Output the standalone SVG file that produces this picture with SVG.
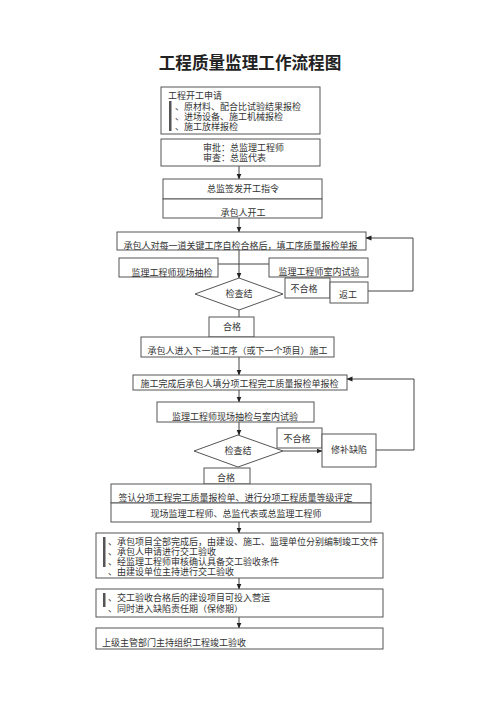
<svg xmlns="http://www.w3.org/2000/svg" width="500" height="707" viewBox="0 0 500 707">
<defs>
<marker id="ah" markerWidth="6" markerHeight="6" refX="5.5" refY="3" orient="auto" markerUnits="userSpaceOnUse">
<path d="M0,0.5 L6,3 L0,5.5 Z" fill="#222"/>
</marker>
</defs>
<style>
.b{fill:#fff;stroke:#555;stroke-width:1}
.t{font-family:"Noto Sans CJK SC","Noto Sans",sans-serif;font-size:9px;fill:#333}
.c{text-anchor:middle}
.l{fill:none;stroke:#444;stroke-width:1}
.a{fill:none;stroke:#444;stroke-width:1;marker-end:url(#ah)}
.bar{fill:#555}
</style>
<rect width="500" height="707" fill="#fff"/>
<text x="250" y="69" class="c" font-family="'Noto Sans CJK SC',sans-serif" font-size="16.6" font-weight="bold" fill="#222">工程质量监理工作流程图</text>

<g id="connectors">
<line class="a" x1="239" y1="166" x2="239" y2="179"/>
<line class="a" x1="239" y1="218" x2="239" y2="232"/>
<line class="l" x1="218" y1="264" x2="269" y2="264"/>
<line class="a" x1="239" y1="250" x2="239" y2="278"/>
<line class="l" x1="239" y1="310" x2="239" y2="317"/>
<path class="a" d="M368,291 H413 V238 H366"/>
<line class="a" x1="239" y1="357" x2="239" y2="375"/>
<path class="a" d="M376,450 H414 V379 H347"/>
<line class="a" x1="239" y1="390" x2="239" y2="402"/>
<line class="a" x1="239" y1="422" x2="239" y2="435"/>
<line class="a" x1="283" y1="451" x2="322" y2="451"/>
<line class="a" x1="239" y1="522" x2="239" y2="533"/>
<line class="a" x1="239" y1="578" x2="239" y2="589"/>
<line class="a" x1="239" y1="617" x2="239" y2="628"/>
</g>

<g id="n1">
<rect class="b" x="161" y="87" width="159" height="47"/>
<rect class="bar" x="169" y="101" width="2.5" height="30"/>
<text class="t"><tspan x="168" y="99">工程开工申请</tspan><tspan x="175" y="110">、原材料、配合比试验结果报检</tspan><tspan x="175" y="120">、进场设备、施工机械报检</tspan><tspan x="175" y="130">、施工放样报检</tspan></text>
</g>
<g id="n2">
<rect class="b" x="161" y="139" width="159" height="27"/>
<text class="t"><tspan x="203" y="151">审批：总监理工程师</tspan><tspan x="203" y="161">审查：总监代表</tspan></text>
</g>
<g id="n3">
<rect class="b" x="163" y="179" width="159" height="20"/>
<text class="t c" x="243" y="192">总监签发开工指令</text>
</g>
<g id="n4">
<rect class="b" x="163" y="199" width="159" height="19"/>
<text class="t c" x="243" y="216">承包人开工</text>
</g>
<g id="n5">
<rect class="b" x="117" y="232" width="249" height="18"/>
<text class="t c" x="240.5" y="249">承包人对每一道关键工序自检合格后，填工序质量报检单报</text>
</g>
<g id="n6">
<rect class="b" x="119" y="258" width="99" height="19"/>
<text class="t c" x="172" y="276">监理工程师现场抽检</text>
</g>
<g id="n7">
<rect class="b" x="269" y="258" width="99" height="19"/>
<text class="t c" x="319" y="275">监理工程师室内试验</text>
</g>
<g id="n8">
<polygon class="b" points="195,294 239,278 283,294 239,310"/>
<text class="t c" x="239" y="297">检查结</text>
</g>
<g id="n9">
<rect class="b" x="285" y="278" width="45" height="20"/>
<text class="t c" x="304" y="292">不合格</text>
</g>
<g id="n10">
<rect class="b" x="330" y="282" width="38" height="21"/>
<text class="t c" x="348" y="298">返工</text>
</g>
<g id="n11">
<rect class="b" x="209" y="317" width="45" height="20"/>
<text class="t c" x="232" y="330">合格</text>
</g>
<g id="n12">
<rect class="b" x="141" y="337" width="193" height="20"/>
<text class="t c" x="237.5" y="354">承包人进入下一道工序（或下一个项目）施工</text>
</g>
<g id="n13">
<rect class="b" x="133" y="375" width="214" height="15"/>
<text class="t c" x="239.5" y="387">施工完成后承包人填分项工程完工质量报检单报检</text>
</g>
<g id="n14">
<rect class="b" x="157" y="402" width="157" height="20"/>
<text class="t c" x="235" y="420">监理工程师现场抽检与室内试验</text>
</g>
<g id="n15">
<polygon class="b" points="194,451 238,435 283,451 238,467"/>
<text class="t c" x="238" y="454">检查结</text>
</g>
<g id="n16">
<rect class="b" x="277" y="428" width="45" height="20"/>
<text class="t c" x="297" y="442">不合格</text>
</g>
<g id="n17">
<rect class="b" x="322" y="434" width="54" height="33"/>
<text class="t c" x="349" y="453">修补缺陷</text>
</g>
<g id="n18">
<rect class="b" x="204" y="468" width="46" height="16"/>
<text class="t c" x="226" y="481">合格</text>
</g>
<g id="n19">
<rect class="b" x="111" y="484" width="260" height="19"/>
<text class="t c" x="235.5" y="501">签认分项工程完工质量报检单、进行分项工程质量等级评定</text>
</g>
<g id="n20">
<rect class="b" x="111" y="503" width="260" height="19"/>
<text class="t c" x="236" y="517">现场监理工程师、总监代表或总监理工程师</text>
</g>
<g id="n21">
<rect class="b" x="96" y="533" width="287" height="45"/>
<rect class="bar" x="103" y="537" width="2.5" height="30"/>
<text class="t"><tspan x="108" y="545">、承包项目全部完成后，由建设、施工、监理单位分别编制竣工文件</tspan><tspan x="108" y="555">、承包人申请进行交工验收</tspan><tspan x="108" y="565">、经监理工程师审核确认具备交工验收条件</tspan><tspan x="108" y="575">、由建设单位主持进行交工验收</tspan></text>
</g>
<g id="n22">
<rect class="b" x="96" y="589" width="287" height="28"/>
<rect class="bar" x="103" y="593" width="2.5" height="14"/>
<text class="t"><tspan x="108" y="601">、交工验收合格后的建设项目可投入营运</tspan><tspan x="108" y="612">、同时进入缺陷责任期（保修期）</tspan></text>
</g>
<g id="n23">
<rect class="b" x="96" y="628" width="287" height="21"/>
<text class="t" x="102" y="646">上级主管部门主持组织工程竣工验收</text>
</g>
</svg>
